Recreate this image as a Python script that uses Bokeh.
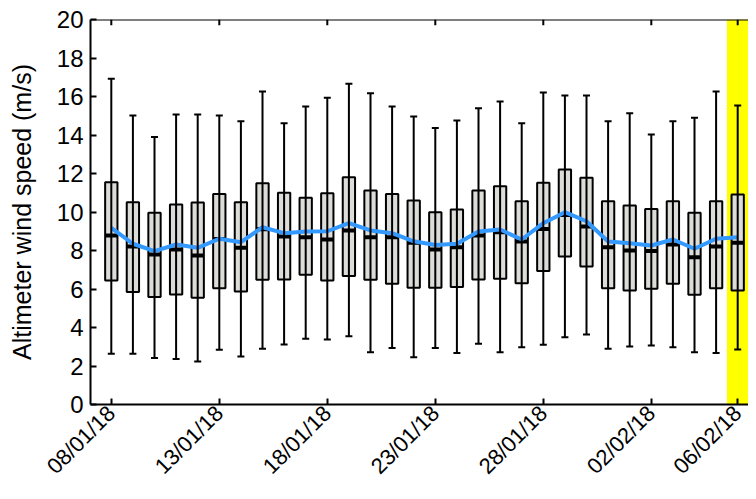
import math
from bokeh.plotting import figure
from bokeh.models import (FixedTicker, Range1d, BoxAnnotation, Span,
                          Whisker, TeeHead, ColumnDataSource)
from bokeh.embed import file_html
from bokeh.resources import INLINE

dates = ["08/01/18", "09/01/18", "10/01/18", "11/01/18", "12/01/18", "13/01/18",
         "14/01/18", "15/01/18", "16/01/18", "17/01/18", "18/01/18", "19/01/18",
         "20/01/18", "21/01/18", "22/01/18", "23/01/18", "24/01/18", "25/01/18",
         "26/01/18", "27/01/18", "28/01/18", "29/01/18", "30/01/18", "31/01/18",
         "01/02/18", "02/02/18", "03/02/18", "04/02/18", "05/02/18", "06/02/18"]
tick_labels = ["08/01/18", "13/01/18", "18/01/18", "23/01/18", "28/01/18",
               "02/02/18", "06/02/18"]
highlight_date = "06/02/18"
y_ticks = [0, 2, 4, 6, 8, 10, 12, 14, 16, 18, 20]

whisker_high = [16.92, 15.01, 13.89, 15.06, 15.06, 15.01, 14.72, 16.26, 14.61, 15.48,
                15.93, 16.66, 16.17, 15.48, 14.96, 14.37, 14.75, 15.39, 15.74, 14.61,
                16.21, 16.05, 16.05, 14.72, 15.13, 14.03, 14.72, 14.89, 16.26, 15.53]
q3 = [11.55, 10.51, 9.96, 10.39, 10.49, 10.94, 10.51, 11.50, 11.00, 10.74,
      10.98, 11.81, 11.12, 10.94, 10.60, 9.99, 10.13, 11.12, 11.34, 10.56,
      11.52, 12.21, 11.78, 10.56, 10.34, 10.16, 10.56, 9.96, 10.56, 10.91]
median = [8.78, 8.21, 7.79, 8.05, 7.74, 8.60, 8.14, 9.10, 8.73, 8.69,
          8.57, 9.04, 8.69, 8.69, 8.40, 8.05, 8.17, 8.78, 8.95, 8.47,
          9.12, 9.85, 9.25, 8.17, 8.00, 7.97, 8.31, 7.65, 8.21, 8.40]
q1 = [6.44, 5.84, 5.58, 5.71, 5.54, 6.04, 5.87, 6.48, 6.49, 6.74,
      6.44, 6.67, 6.48, 6.27, 6.06, 6.06, 6.10, 6.49, 6.53, 6.30,
      6.93, 7.69, 7.17, 6.04, 5.92, 6.01, 6.27, 5.70, 6.04, 5.92]
whisker_low = [2.63, 2.63, 2.42, 2.37, 2.23, 2.84, 2.49, 2.89, 3.12, 3.41,
               3.38, 3.55, 2.72, 2.94, 2.46, 2.94, 2.68, 3.15, 2.72, 2.98,
               3.10, 3.50, 3.64, 2.89, 3.01, 3.06, 2.98, 2.72, 2.67, 2.86]
mean_speed = [9.18, 8.35, 7.97, 8.31, 8.14, 8.61, 8.43, 9.21, 8.90, 8.99,
              9.00, 9.42, 9.04, 8.90, 8.48, 8.29, 8.35, 8.99, 9.09, 8.57,
              9.42, 9.99, 9.52, 8.47, 8.38, 8.26, 8.57, 8.09, 8.61, 8.69]

x = list(range(len(dates)))
tick_idx = [dates.index(t) for t in tick_labels]
hi_idx = dates.index(highlight_date)
y_min, y_max = y_ticks[0], y_ticks[-1]

src = ColumnDataSource(dict(x=x, whi=whisker_high, q3=q3, med=median, q1=q1,
                            wlo=whisker_low, mean=mean_speed))

FONT = "Liberation Sans"

p = figure(width=748, height=491, x_range=Range1d(-0.963, 29.5),
           y_range=Range1d(y_min, y_max),
           output_backend="svg", toolbar_location=None,
           min_border_left=90, min_border_right=0, min_border_top=19, min_border_bottom=87,
           outline_line_color=None, background_fill_color="white", border_fill_color="white")
p.xgrid.visible = False
p.ygrid.visible = False

# highlight band
p.add_layout(BoxAnnotation(left=hi_idx - 0.5, fill_color="#ffff00", fill_alpha=1.0,
                           line_color=None, level="underlay"))

# whiskers
p.add_layout(Whisker(source=src, base="x", upper="whi", lower="wlo", line_color="black",
                     line_width=2,
                     upper_head=TeeHead(size=7, line_width=2, line_color="black"),
                     lower_head=TeeHead(size=7, line_width=2, line_color="black"),
                     level="glyph"))

# boxes
p.vbar(x="x", width=0.57, top="q3", bottom="q1", source=src, fill_color="#dcdcd8",
       line_color="black", line_width=2)
# medians
p.rect(x="x", y="med", width=0.57, height=4, height_units="screen", source=src,
       fill_color="black", line_color=None)
# mean line
p.line(x="x", y="mean", source=src, line_color="#3399ff", line_width=4)

# top border and inward ticks
p.add_layout(Span(location=y_max, dimension="width", line_color="black", line_width=2))
p.segment(x0=tick_idx, y0=[y_max] * len(tick_idx), x1=tick_idx,
          y1=[y_max - 0.3] * len(tick_idx), line_color="black", line_width=2)

# axes styling
for ax in [p.xaxis[0], p.yaxis[0]]:
    ax.axis_line_width = 2
    ax.major_tick_line_width = 2
    ax.major_tick_in = 6
    ax.major_tick_out = 0
    ax.minor_tick_line_color = None
    ax.major_label_text_font = FONT
    ax.major_label_text_color = "black"

p.yaxis.major_label_text_font_size = "24px"
p.xaxis.major_label_text_font_size = "22px"

p.xaxis.ticker = FixedTicker(ticks=tick_idx)
p.xaxis.major_label_overrides = {i: t for i, t in zip(tick_idx, tick_labels)}
p.xaxis.major_label_orientation = math.pi / 4
p.xaxis.major_label_standoff = 5

p.yaxis.ticker = FixedTicker(ticks=y_ticks)
p.yaxis.major_label_standoff = 7
p.yaxis.axis_label = "Altimeter wind speed (m/s)"
p.yaxis.axis_label_text_font = FONT
p.yaxis.axis_label_text_font_size = "25px"
p.yaxis.axis_label_text_font_style = "normal"
p.yaxis.axis_label_text_color = "black"
p.yaxis.axis_label_standoff = 18

open("out.html", "w").write(file_html(p, INLINE))
